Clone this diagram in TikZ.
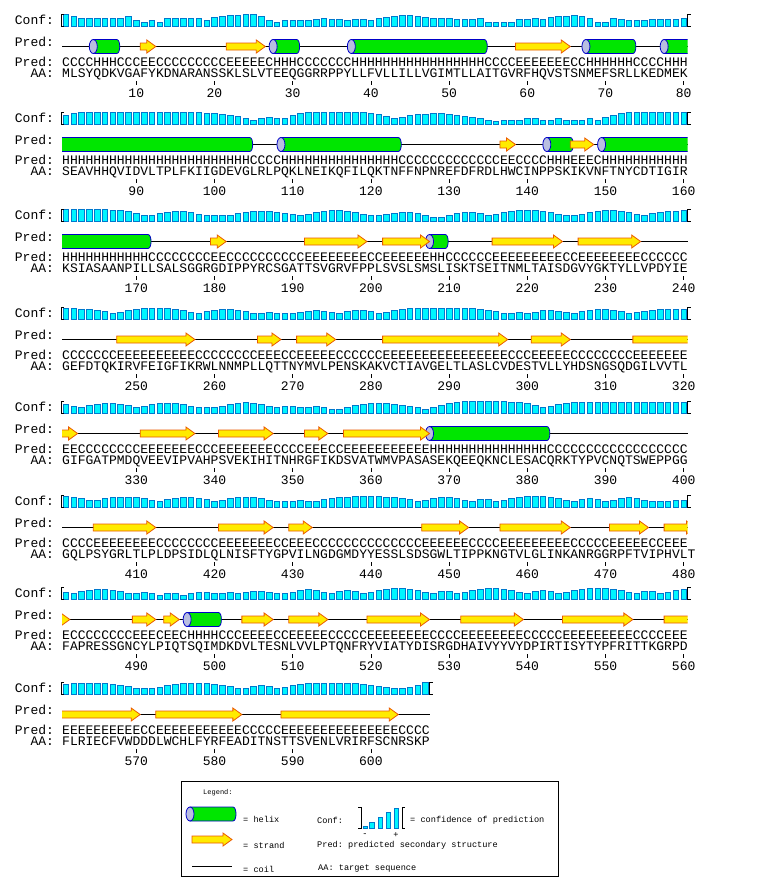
\documentclass[tikz,border=0pt]{standalone}
\usepackage{fontspec}
\setmonofont{Liberation Mono}
\usetikzlibrary{positioning}

\definecolor{helixgreen}{RGB}{0,230,0}
\definecolor{helixblue}{RGB}{0,0,200}
\definecolor{helixcap}{RGB}{185,190,225}
\definecolor{strandyellow}{RGB}{255,235,0}
\definecolor{strandorange}{RGB}{235,90,0}
\definecolor{confcyan}{RGB}{0,245,255}
\definecolor{confblue}{RGB}{0,120,205}

\newcommand{\seqfont}{\fontsize{13.03}{15}\selectfont\ttfamily}
\newcommand{\legfont}{\fontsize{8.6}{10}\selectfont\ttfamily}
\newcommand{\cw}{7.82}
\newcommand{\xo}{62}

% runs of one letter, as length/letter
\newcommand{\predline}[1]{\foreach \plen/\pchar in {#1}{\foreach \kk in {1,...,\plen}{\pchar}}}

\newcommand{\predrow}[1]{\ifcase#1\relax
  \predline{4/C,3/H,3/C,2/E,9/C,5/E,1/C,3/H,7/C,17/H,4/C,7/E,2/C,6/H,4/C,3/H}\or
  \predline{24/H,4/C,15/H,13/C,2/E,4/C,3/H,3/E,1/C,11/H}\or
  \predline{11/H,8/C,2/E,10/C,8/E,2/C,6/E,2/H,6/C,9/E,2/C,8/E,6/C}\or
  \predline{7/C,10/E,8/C,3/E,2/C,5/E,6/C,16/E,3/C,5/E,8/C,7/E}\or
  \predline{2/E,8/C,7/E,3/C,7/E,4/C,3/E,2/C,11/E,15/H,18/C}\or
  \predline{4/C,8/E,8/C,7/E,2/C,3/E,14/C,6/E,4/C,9/E,5/C,5/E,2/C,3/E}\or
  \predline{1/E,8/C,3/E,1/C,2/E,1/C,4/H,3/C,4/E,2/C,5/E,5/C,8/E,4/C,8/E,5/C,9/E,4/C,3/E}\or
  \predline{10/E,2/C,11/E,5/C,15/E,4/C}\fi}

\newcommand{\aarow}[1]{\ifcase#1\relax
  MLSYQDKVGAFYKDNARANSSKLSLVTEEQGGRRPPYLLFVLLILLVGIMTLLAITGVRFHQVSTSNMEFSRLLKEDMEK\or
  SEAVHHQVIDVLTPLFKIIGDEVGLRLPQKLNEIKQFILQKTNFFNPNREFDFRDLHWCINPPSKIKVNFTNYCDTIGIR\or
  KSIASAANPILLSALSGGRGDIPPYRCSGATTSVGRVFPPLSVSLSMSLISKTSEITNMLTAISDGVYGKTYLLVPDYIE\or
  GEFDTQKIRVFEIGFIKRWLNNMPLLQTTNYMVLPENSKAKVCTIAVGELTLASLCVDESTVLLYHDSNGSQDGILVVTL\or
  GIFGATPMDQVEEVIPVAHPSVEKIHITNHRGFIKDSVATWMVPASASEKQEEQKNCLESACQRKTYPVCNQTSWEPPGG\or
  GQLPSYGRLTLPLDPSIDLQLNISFTYGPVILNGDGMDYYESSLSDSGWLTIPPKNGTVLGLINKANRGGRPFTVIPHVLT\or
  FAPRESSGNCYLPIQTSQIMDKDVLTESNLVVLPTQNFRYVIATYDISRGDHAIVYYVYDPIRTISYTYPFRITTKGRPD\or
  FLRIECFVWDDDLWCHLFYRFEADITNSTTSVENLVRIRFSCNRSKP\fi}

% secondary structure elements, residue numbers
\newcommand{\helixlist}{5/7,28/30,38/54,68/73,78/104,109/123,143/145,150/171,208/209,368/382,497/500}
\newcommand{\strandlist}{11/12,22/26,59/65,137/138,146/148,180/181,192/199,202/207,216/224,227/234,
  248/257,266/268,271/275,282/297,301/305,314/322,331/337,341/347,352/354,357/367,405/412,421/427,
  430/432,447/452,457/465,471/475,478/481,490/492,494/495,504/507,510/514,520/527,532/539,545/553,
  558/570,573/583,589/603}

% confidence, 0..9, one line per row
\newcommand{\confvalues}{
9,7,5,5,5,5,5,5,7,3,2,3,2,5,5,5,5,5,3,6,7,8,8,9,9,7,3,2,3,3,3,3,4,5,4,4,3,4,4,3,5,6,7,8,8,7,6,5,5,5,4,4,4,5,2,2,2,2,4,4,5,4,6,7,7,8,7,5,2,2,5,4,3,3,3,4,4,4,4,5,
6,8,9,9,9,9,9,9,9,9,9,9,9,9,9,9,9,9,8,8,7,6,5,3,2,3,4,3,3,6,8,9,9,9,9,9,9,9,9,8,7,5,3,4,6,7,7,8,8,7,6,5,4,3,2,1,2,2,2,3,3,2,2,3,2,2,2,3,2,4,6,8,9,9,9,9,9,9,9,9,
9,9,9,9,9,9,8,8,7,5,3,3,5,6,7,7,6,4,3,3,3,3,5,6,7,7,7,6,5,4,3,4,6,7,8,8,7,6,4,3,3,4,5,6,6,5,3,2,2,3,5,6,6,5,3,4,6,7,8,8,8,7,6,4,3,3,4,6,7,8,8,7,6,4,3,5,6,7,7,8,
8,8,7,7,6,5,3,4,6,7,8,8,8,8,7,6,4,3,5,6,7,7,6,5,3,3,4,3,3,3,4,5,6,5,4,3,5,6,6,5,3,4,6,7,8,8,8,8,8,8,8,8,8,7,6,5,3,3,4,3,4,6,6,5,4,3,5,6,7,7,6,5,3,4,5,6,7,7,7,7,
6,4,3,5,6,7,7,6,5,3,4,6,7,7,7,6,4,3,3,3,4,6,7,8,7,6,4,3,4,4,3,3,4,3,2,2,3,5,6,7,7,7,6,5,4,3,2,3,5,7,8,9,9,9,9,9,9,8,8,7,5,3,4,6,7,8,8,8,8,8,8,8,8,8,8,8,8,8,8,8,
8,7,6,4,4,6,7,7,7,7,6,4,3,5,6,7,7,6,5,3,4,6,7,7,7,6,4,3,3,3,4,3,3,5,6,7,7,8,8,8,8,7,7,6,5,3,4,6,7,7,6,4,3,5,5,3,4,6,7,8,8,8,7,6,4,3,5,6,5,3,4,6,7,6,4,3,3,3,4,4,
4,3,5,6,7,7,6,5,3,3,4,3,2,3,3,2,3,4,4,3,3,4,3,4,5,5,4,3,3,4,6,7,6,4,3,5,6,5,3,4,6,7,8,8,7,6,4,3,5,5,3,4,6,7,8,8,7,6,4,3,5,6,5,3,4,6,7,8,8,8,7,6,4,3,5,5,3,4,6,7,
7,8,8,8,8,8,7,6,5,3,3,3,4,6,7,8,8,8,8,7,6,5,3,3,5,6,5,3,4,6,7,8,8,8,8,8,8,8,7,6,5,4,3,3,4,6,9}

\newcommand{\helixat}[3]{%
  \draw[helixbody] (#1,#3-7) -- (#2,#3-7) .. controls (#2+4,#3-7) and (#2+4,#3+7) .. (#2,#3+7) -- (#1,#3+7) -- cycle;
  \draw[helixend] (#1,#3) ellipse [x radius=4,y radius=7];}
\newcommand{\strandat}[3]{%
  \draw[strandbody] (#1,#3-3.5) -- (#2-9,#3-3.5) -- (#2-9,#3-6.5) -- (#2,#3)
    -- (#2-9,#3+6.5) -- (#2-9,#3+3.5) -- (#1,#3+3.5) -- cycle;}

\begin{document}
\begin{tikzpicture}[x=1pt,y=-1pt,
  lab/.style={font=\seqfont,anchor=base east,inner sep=0pt},
  seq/.style={font=\seqfont,anchor=base west,inner sep=0pt},
  leg/.style={font=\legfont,anchor=west,inner sep=0pt},
  helixbody/.style={draw=helixblue,fill=helixgreen,line width=0.8pt},
  helixend/.style={draw=helixblue,fill=helixcap,line width=0.8pt},
  strandbody/.style={draw=strandorange,fill=strandyellow,line width=0.8pt},
  confbar/.style={draw=confblue,fill=confcyan,line width=0.5pt},
  confbracket/.style={draw=black,line width=0.6pt},
  coilline/.style={draw=black,line width=0.7pt},
  tickmark/.style={draw=black,line width=0.7pt}]
\fill[white] (0,0) rectangle (775,895);
\useasboundingbox (0,0) rectangle (775,895);

% confidence bars
\foreach \v [count=\i] in \confvalues {
  \pgfmathtruncatemacro\rr{(\i-1)/80}
  \pgfmathtruncatemacro\cc{\i-80*\rr}
  \pgfmathsetmacro\yb{{20,118,215,313,407,501,593,688}[\rr]+6}
  \pgfmathsetmacro\xb{\xo+(\cc-1)*\cw+1}
  \pgfmathsetmacro\hb{2+1.1*\v}
  \draw[confbar] (\xb,\yb) rectangle ++(5.6,-\hb);
}

% one block per 80 residues
\foreach \r/\yy/\nres in {0/20/80,1/118/80,2/215/80,3/313/80,4/407/80,5/501/80,6/593/80,7/688/47} {
  \pgfmathsetmacro\xend{\xo+\nres*\cw}
  \pgfmathsetmacro\yc{\yy+26.5}
  \node[lab] (conf\r) at (54.18,\yy+4.5) {Conf:};
  \node[lab] (pred\r) at (54.18,\yy+26) {Pred:};
  \node[lab] (predt\r) at (54.18,\yy+46) {Pred:};
  \node[lab] (aa\r) at (54.18,\yy+57) {AA:};
  \node[seq] (ss\r) at (\xo,\yy+46) {\predrow{\r}};
  \node[seq] (res\r) at (\xo,\yy+57) {\aarow{\r}};
  \draw[confbracket] (\xo+2,\yy-6) -- (\xo-1,\yy-6) -- (\xo-1,\yy+6) -- (\xo+2,\yy+6);
  \draw[confbracket] (\xend+3,\yy-6) -- (\xend,\yy-6) -- (\xend,\yy+6) -- (\xend+3,\yy+6);
  \draw[coilline] (\xo,\yc) -- (\xend,\yc);
  \begin{scope}
    \clip (\xo,\yy+10) rectangle (\xend,\yy+44);
    \foreach \a/\b in \helixlist {
      \pgfmathsetmacro\hxa{\xo+(\a-1-80*\r)*\cw}
      \pgfmathsetmacro\hxb{\xo+(\b-80*\r)*\cw}
      \helixat{\hxa}{\hxb}{\yc}}
    \foreach \a/\b in \strandlist {
      \pgfmathsetmacro\sxa{\xo+(\a-1-80*\r)*\cw}
      \pgfmathsetmacro\sxb{\xo+(\b-80*\r)*\cw}
      \strandat{\sxa}{\sxb}{\yc}}
  \end{scope}
  \pgfmathtruncatemacro\nt{\nres/10}
  \foreach \k in {1,...,\nt} {
    \pgfmathsetmacro\xt{\xo+(10*\k-0.5)*\cw}
    \pgfmathtruncatemacro\num{80*\r+10*\k}
    \draw[tickmark] (\xt,\yy+61) -- (\xt,\yy+65);
    \node[seq,anchor=base] (num\r-\k) at (\xt,\yy+77) {\num};
  }
}

% legend
\draw[line width=0.7pt] (181.5,781) rectangle (558,876);
\node[leg,font=\fontsize{7}{8}\selectfont\ttfamily] (legtitle) at (203,793) {Legend:};
\helixat{190}{233}{814}
\node[leg] (leghelix) at (243,819) {= helix};
\node[leg] (legconf) at (317,820) {Conf:};
\draw[confbracket] (358,807) -- (361,807) -- (361,828) -- (358,828);
\draw[confbar] (363,828) rectangle (367,826);
\draw[confbar] (369.5,828) rectangle (374,822);
\draw[confbar] (378,828) rectangle (382.5,817);
\draw[confbar] (386,828) rectangle (390.5,812);
\draw[confbar] (394,828) rectangle (398.5,808);
\draw[confbracket] (405,807) -- (402,807) -- (402,828) -- (405,828);
\node[font=\legfont,inner sep=0pt] (legminus) at (365,835) {-};
\node[font=\legfont,inner sep=0pt] (legplus) at (396,835) {+};
\node[leg] (legconftext) at (410,820) {= confidence of prediction};
\strandat{192}{232}{839.5}
\node[leg] (legstrand) at (243,845) {= strand};
\node[leg] (legpred) at (317,845) {Pred: predicted secondary structure};
\draw[coilline] (192,866) -- (232,866);
\node[leg] (legcoil) at (243,869) {= coil};
\node[leg] (legaa) at (318,869) {AA: target sequence};
\end{tikzpicture}
\end{document}
